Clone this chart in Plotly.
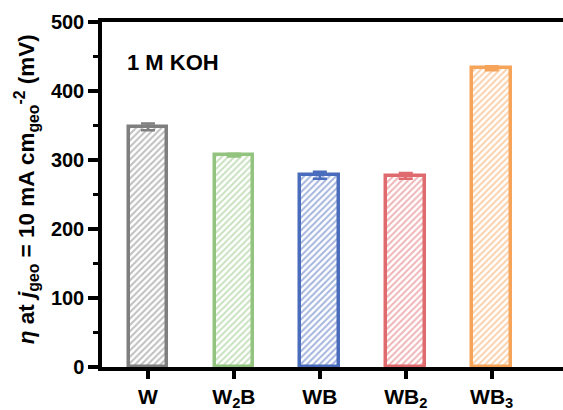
import plotly.graph_objects as go

# Overpotential at 10 mA cm^-2 in 1 M KOH for each tungsten boride phase
categories = ["W", "W<sub>2</sub>B", "WB", "WB<sub>2</sub>", "WB<sub>3</sub>"]
overpotential = [348, 307, 278, 277, 433]
error = [5, 2, 5, 4, 3]
colors = ["#7f7f7f", "#92c47f", "#4a6cbc", "#e06b6f", "#f5a459"]

FONT = "Liberation Sans, Arial, sans-serif"

fig = go.Figure()
for i, cat in enumerate(categories):
    fig.add_trace(go.Bar(
        x=[i],
        y=[overpotential[i]],
        width=0.45,
        marker=dict(
            color="white",
            line=dict(color=colors[i], width=3.5),
            pattern=dict(shape="/", fgcolor=colors[i], bgcolor="white",
                         size=4.5, solidity=0.45),
        ),
        error_y=dict(type="data", array=[error[i]], color=colors[i],
                     thickness=2.5, width=7),
        showlegend=False,
    ))

# electrolyte label
fig.add_annotation(
    x=0.05, xref="paper", y=442, yref="y",
    text="1 M KOH", showarrow=False, xanchor="left", yanchor="middle",
    font=dict(family=FONT, size=22, color="black", weight="bold"),
)

# y-axis title, placed as a rotated annotation
fig.add_annotation(
    x=-0.165, xref="paper", y=0.515, yref="paper",
    text="<i>η</i> at <i>j</i><sub>geo</sub> = 10 mA cm<sub>geo</sub><sup>-2</sup> (mV)",
    textangle=-90, showarrow=False, xanchor="center", yanchor="middle",
    font=dict(family=FONT, size=22.5, color="black", weight="bold"),
)

fig.update_layout(
    width=563, height=410,
    margin=dict(l=102, r=0, t=22, b=43, autoexpand=False),
    paper_bgcolor="white", plot_bgcolor="white",
    bargap=0,
    xaxis=dict(
        range=[-0.535, 4.83], automargin=False,
        tickmode="array", tickvals=list(range(len(categories))),
        ticktext=categories,
        showline=True, linecolor="black", linewidth=3.5, mirror=True,
        ticks="outside", ticklen=8, tickwidth=3.5, tickcolor="black",
        showgrid=False, zeroline=False,
        tickfont=dict(family=FONT, size=21, color="black", weight="bold"),
    ),
    yaxis=dict(
        range=[0, 500], automargin=False,
        tickvals=[0, 100, 200, 300, 400, 500],
        showline=True, linecolor="black", linewidth=3.5,
        ticks="outside", ticklen=10, tickwidth=3.5, tickcolor="black",
        minor=dict(dtick=50, ticks="outside", ticklen=5, tickwidth=3,
                   tickcolor="black", showgrid=False),
        showgrid=False, zeroline=False,
        tickfont=dict(family=FONT, size=20, color="black", weight="bold"),
    ),
)

fig.write_html("out.html")
